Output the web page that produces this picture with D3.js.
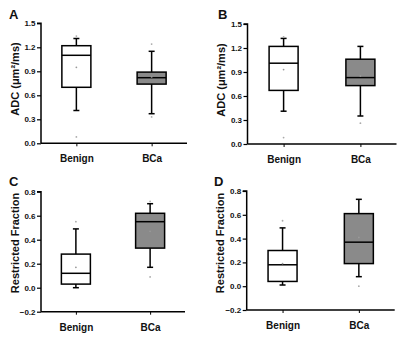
<!DOCTYPE html>
<html>
<head>
<meta charset="utf-8">
<script src="https://cdn.jsdelivr.net/npm/d3@7"></script>
<style>
  body { margin: 0; background: #fff; }
  text { font-family: "Liberation Sans", Arial, sans-serif; font-weight: bold; }
</style>
</head>
<body>
<div id="chart"></div>
<script>
// data
const categories = ["Benign", "BCa"];
const panelLetters = ["A", "B", "C", "D"];
const adcTicks = [0.0, 0.3, 0.6, 0.9, 1.2, 1.5];
const rfTicks = [-0.2, 0.0, 0.2, 0.4, 0.6, 0.8];

// [whisker low, q1, median, q3, whisker high]
const boxA = [[0.41, 0.70, 1.10, 1.22, 1.31], [0.37, 0.74, 0.82, 0.89, 1.15]];
const boxB = [[0.41, 0.67, 1.01, 1.22, 1.32], [0.35, 0.73, 0.83, 1.06, 1.22]];
const boxC = [[0.00, 0.03, 0.12, 0.28, 0.49], [0.17, 0.33, 0.55, 0.62, 0.70]];
const boxD = [[0.01, 0.04, 0.18, 0.30, 0.49], [0.08, 0.19, 0.37, 0.61, 0.73]];
const meanA = [0.95, 0.83], meanB = [0.93, 0.85], meanC = [0.17, 0.47], meanD = [0.19, 0.41];
const outA = [[1.34, 0.08], [1.24, 0.33]];
const outB = [[1.34, 0.08], [0.26]];
const outC = [[0.55], [0.72, 0.09]];
const outD = [[0.55], [0.00]];

const fills = ["#ffffff", "#8a8a8a"];

const panels = [
  { letter: panelLetters[0], box: boxA, mean: meanA, out: outA, ticks: adcTicks, title: "ADC (\u03bcm\u00b2/ms)",
    ox: 41, oy: 23.3, w: 146, h: 120, lx: 9, ly: 19, tx: 19, ty: 79 },
  { letter: panelLetters[1], box: boxB, mean: meanB, out: outB, ticks: adcTicks, title: "ADC (\u03bcm\u00b2/ms)",
    ox: 247.5, oy: 24, w: 149, h: 120, lx: 218, ly: 19, tx: 225, ty: 80 },
  { letter: panelLetters[2], box: boxC, mean: meanC, out: outC, ticks: rfTicks, title: "Restricted Fraction",
    ox: 41, oy: 191.7, w: 144, h: 120, lx: 9, ly: 186, tx: 19, ty: 243 },
  { letter: panelLetters[3], box: boxD, mean: meanD, out: outD, ticks: rfTicks, title: "Restricted Fraction",
    ox: 246.7, oy: 191, w: 148, h: 119, lx: 214, ly: 186, tx: 224, ty: 243 }
];

const svg = d3.select("#chart").append("svg")
  .attr("width", 400)
  .attr("height", 338);

panels.forEach(function(p) {
  const g = svg.append("g").attr("transform", "translate(" + p.ox + "," + p.oy + ")");

  const y = d3.scaleLinear()
    .domain([p.ticks[0], p.ticks[p.ticks.length - 1]])
    .range([p.h, 0]);
  const x = d3.scalePoint()
    .domain(categories)
    .range([0, p.w])
    .padding(0.47);
  const bw = 29;

  // y axis
  const ya = g.append("g")
    .call(d3.axisLeft(y).tickValues(p.ticks).tickFormat(d3.format(".1f")).tickSize(4).tickPadding(1.5));
  ya.select(".domain").attr("stroke-width", 1.5).attr("d", "M0," + p.h + "V0H-4");
  ya.selectAll(".tick line").attr("stroke-width", 1.2);
  ya.selectAll(".tick text").style("font-size", "8px").attr("fill", "#111");

  // x axis
  const xa = g.append("g")
    .attr("transform", "translate(0," + p.h + ")")
    .call(d3.axisBottom(x).tickSize(3).tickPadding(9));
  xa.select(".domain").attr("stroke-width", 1.5).attr("d", "M0,0H" + p.w);
  xa.selectAll(".tick line").attr("stroke-width", 1);
  xa.selectAll(".tick text").style("font-size", "10px").attr("fill", "#111");

  // boxes
  const b = g.selectAll(".bx")
    .data(categories)
    .enter()
    .append("g")
    .attr("class", "bx");

  b.append("line")
    .attr("x1", d => x(d)).attr("x2", d => x(d))
    .attr("y1", (d, i) => y(p.box[i][0])).attr("y2", (d, i) => y(p.box[i][4]))
    .attr("stroke", "#000").attr("stroke-width", 1.5);
  b.selectAll(".cap")
    .data((d, i) => [[d, p.box[i][0]], [d, p.box[i][4]]])
    .enter()
    .append("line")
    .attr("x1", d => x(d[0]) - 3).attr("x2", d => x(d[0]) + 3)
    .attr("y1", d => y(d[1])).attr("y2", d => y(d[1]))
    .attr("stroke", "#000").attr("stroke-width", 1.5);
  b.append("rect")
    .attr("x", d => x(d) - bw / 2)
    .attr("y", (d, i) => y(p.box[i][3]))
    .attr("width", bw)
    .attr("height", (d, i) => y(p.box[i][1]) - y(p.box[i][3]))
    .attr("fill", (d, i) => fills[i])
    .attr("stroke", "#000").attr("stroke-width", 1.5);
  b.append("line")
    .attr("x1", d => x(d) - bw / 2).attr("x2", d => x(d) + bw / 2)
    .attr("y1", (d, i) => y(p.box[i][2])).attr("y2", (d, i) => y(p.box[i][2]))
    .attr("stroke", "#000").attr("stroke-width", 1.5);

  // means and outliers as tiny grey dots
  b.append("circle")
    .attr("cx", d => x(d)).attr("cy", (d, i) => y(p.mean[i]))
    .attr("r", 0.9).attr("fill", "#999");
  b.selectAll(".out")
    .data((d, i) => p.out[i].map(v => [d, v]))
    .enter()
    .append("circle")
    .attr("cx", d => x(d[0])).attr("cy", d => y(d[1]))
    .attr("r", 0.9).attr("fill", "#aaa");

  // axis title
  svg.append("text")
    .attr("transform", "translate(" + p.tx + "," + p.ty + ") rotate(-90)")
    .attr("text-anchor", "middle")
    .style("font-size", "11px")
    .attr("fill", "#111")
    .text(p.title);

  // panel letter
  svg.append("text")
    .attr("x", p.lx).attr("y", p.ly)
    .style("font-size", "13px")
    .attr("fill", "#111")
    .text(p.letter);
});
</script>
</body>
</html>
